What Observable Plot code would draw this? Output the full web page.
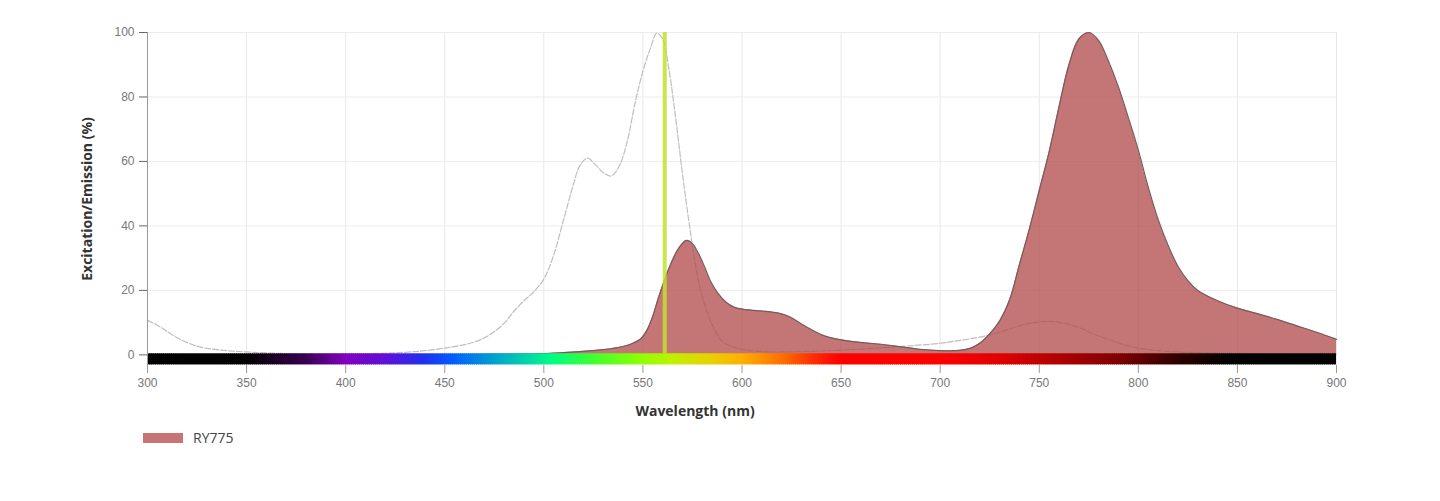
<!DOCTYPE html>
<html><head><meta charset="utf-8">
<script src="https://cdn.jsdelivr.net/npm/d3@7"></script>
<script src="https://cdn.jsdelivr.net/npm/@observablehq/plot@0.6"></script>
<style>
html,body{margin:0;padding:0;background:#fff;}
body{width:1440px;height:501px;overflow:hidden;position:relative;font-family:"Open Sans",sans-serif;}
#chart svg{display:block;}
#legend{position:absolute;left:143px;top:428px;display:flex;align-items:center;font-size:14px;color:#444;}
#legend .sw{display:inline-block;width:40px;height:10px;background:rgb(200,116,116);margin-right:10px;}
</style></head><body>
<div id="chart"></div>
<div id="legend"><span class="sw"></span><span id="legtext"></span></div>
<script>
// ---- data ----
const seriesName = "RY775";
const xTitle = "Wavelength (nm)";
const yTitle = "Excitation/Emission (%)";
const xTicks = [300,350,400,450,500,550,600,650,700,750,800,850,900];
const yTicks = [0,20,40,60,80,100];
const laserNm = [561];

const exWl = [300,305,310,315,320,325,330,340,350,360,380,400,420,430,440,450,460,465,470,475,480,485,490,495,500,505,510,515,518,522,526,530,534,538,542,546,550,554,557,560,563,566,570,574,578,582,586,590,595,600,610,620,640,660,680,700,710,720,730,740,748,755,762,770,778,785,792,800,810,820,835,850,870,900];
const exVal = [10.7,9.2,7.2,5.3,3.8,2.7,2.0,1.3,0.9,0.6,0.3,0.3,0.5,0.8,1.3,2.1,3.2,4.0,5.3,7.2,9.8,13.6,16.8,19.6,23.5,31,42,53,58.5,61,59,56.5,55.5,58.5,66,78,88,95.5,99.8,98,89,76,56,38,23,14,8,4.2,2.6,1.7,1.0,0.9,1.2,1.8,2.6,3.6,4.5,5.5,7.0,9.0,10.1,10.4,9.9,8.5,6.3,4.8,3.3,2.1,1.3,0.9,0.6,0.4,0.3,0.2];

const emWl = [300,350,400,450,480,500,510,520,530,540,545,549,552,555,558,562,565,568,572,575,578,581,584,588,592,596,600,606,612,618,624,630,636,642,648,655,662,670,680,690,700,710,715,720,725,730,735,740,745,750,755,760,765,770,775,780,785,790,795,800,805,810,815,820,825,830,840,850,860,870,880,890,900];
const emVal = [0,0,0,0.1,0.2,0.4,0.7,1.1,1.6,2.6,3.6,5,7.6,12,18,25,29.5,33,35.5,34.5,31.5,27.5,23,19,16.3,14.8,14.2,13.8,13.5,13,11.8,9.6,7.5,5.8,4.9,4.2,3.7,3.3,2.5,1.7,1.3,1.4,2,3.6,6.5,10.5,17,28,39,51,63,77,90,98,100,97.5,91,83,73.5,63.5,52,42,34,27.5,23,20,16.8,14.5,12.8,11,9,7,4.8];

const specStops = [300,350,380,400,420,440,455,475,495,505,525,550,565,585,600,620,640,650,700,730,760,790,820,845,900];
const specColors = ["#000000","#000000","#3a0050","#8000c0","#6010d8","#2030f0","#0060ff","#00a0d0","#00e0a0","#00ff80","#40ff30","#90ff00","#c0f000","#e8d000","#ffb000","#ff7000","#ff2000","#ff0000","#ff0000","#e00000","#b00000","#800000","#300000","#000000","#000000"];

// ---- build ----
document.getElementById("legtext").textContent = seriesName;
const ex = exWl.map((w,i)=>({w, v: exVal[i]}));
const em = emWl.map((w,i)=>({w, v: emVal[i]}));
const specScale = d3.scaleLinear().domain(specStops).range(specColors).interpolate(d3.interpolateRgb);
const bins = d3.range(300, 900, 1).map(w => ({x1: w, x2: Math.min(900, w + 1.5), c: specScale(w + 0.5)}));

const chart = Plot.plot({
  width: 1440, height: 425,
  marginLeft: 147, marginRight: 104, marginTop: 32, marginBottom: 60,
  style: {fontFamily: "'Liberation Sans', Arial, sans-serif", fontSize: "12px", background: "#fff", color: "#777"},
  x: {domain: [300, 900]},
  y: {domain: [-3.3, 100]},
  color: {type: "identity"},
  marks: [
    Plot.gridX(xTicks, {stroke: "#e8e8e8", strokeOpacity: 1}),
    Plot.gridY(yTicks, {stroke: "#ececec", strokeOpacity: 1}),
    Plot.line(ex, {x: "w", y: "v", stroke: "#c4bcbc", strokeWidth: 1.2, strokeDasharray: "6,2", curve: "catmull-rom"}),
    Plot.areaY(em, {x: "w", y: "v", fill: "#b04848", fillOpacity: 0.75, curve: "catmull-rom"}),
    Plot.line(em, {x: "w", y: "v", stroke: "#775a5a", strokeWidth: 1.2, curve: "catmull-rom"}),
    Plot.ruleX(laserNm, {y1: 0.3, y2: 100, stroke: "#c2e030", strokeWidth: 4, strokeOpacity: 0.85}),
    Plot.rect(bins, {x1: "x1", x2: "x2", y1: -3.1, y2: 0.3, fill: "c"}),
    Plot.ruleX([300], {stroke: "#999", strokeWidth: 1}),
    Plot.axisX(xTicks, {tickSize: 8, tickPadding: 5, stroke: "#999", fill: "#777", label: null}),
    Plot.axisY(yTicks, {tickSize: 8, tickPadding: 5, stroke: "#666", fill: "#777", label: null}),
    Plot.text([xTitle], {frameAnchor: "bottom", dx: -47, dy: 50, fontWeight: "bold", fontSize: 14, fill: "#333", fontFamily: "'Open Sans', sans-serif"}),
    Plot.text([yTitle], {frameAnchor: "left", textAnchor: "middle", rotate: -90, dx: -60, dy: 0, fontWeight: "bold", fontSize: 14, fill: "#333", fontFamily: "'Open Sans', sans-serif"})
  ]
});
document.getElementById("chart").appendChild(chart);
</script>
</body></html>
